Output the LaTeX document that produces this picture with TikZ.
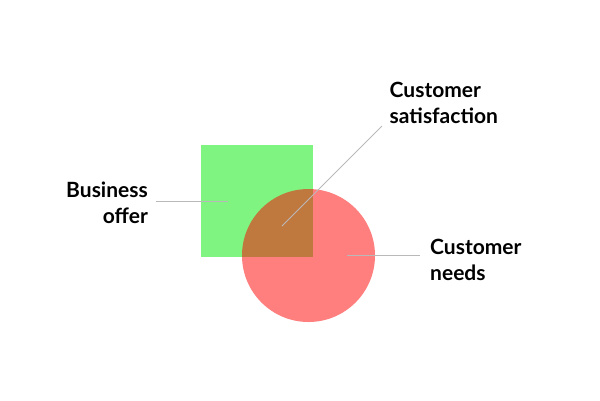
\documentclass[tikz,border=0pt]{standalone}
\usepackage{fontspec}
\setmainfont{Lato}[UprightFont=* Bold]
\definecolor{sqgreen}{RGB}{128,244,128}
\definecolor{circred}{RGB}{255,0,0}
\definecolor{leader}{RGB}{185,185,185}
\tikzset{
  lbl/.style={inner sep=0pt, font=\fontsize{21}{26}\selectfont, text=black},
  leaderline/.style={draw=leader, line width=0.8pt},
}
\begin{document}
\begin{tikzpicture}[x=1pt,y=-1pt]
\useasboundingbox (0,0) rectangle (600,400);
\fill[sqgreen] (201,145) rectangle (312.5,256.5);
\fill[circred, fill opacity=0.5] (308.5,255.5) circle[radius=66.5];
% labels (base anchor = baseline of last line)
\node[lbl, align=right, anchor=base east] (bo) at (148,223) {Business\\offer};
\node[lbl, align=left, anchor=base west] (cs) at (389.5,123.3) {Customer\\satisfaction};
\node[lbl, align=left, anchor=base west] (cn) at (430,280) {Customer\\needs};
% leader ends
\coordinate (boS) at (156,201);
\coordinate (boE) at (228,201);
\coordinate (csS) at (382,126);
\coordinate (csE) at (282,226);
\coordinate (cnS) at (420,255.3);
\coordinate (cnE) at (347,255.3);
\draw[leaderline] (boS) -- (boE);
\draw[leaderline] (csS) -- (csE);
\draw[leaderline] (cnS) -- (cnE);
\end{tikzpicture}
\end{document}
